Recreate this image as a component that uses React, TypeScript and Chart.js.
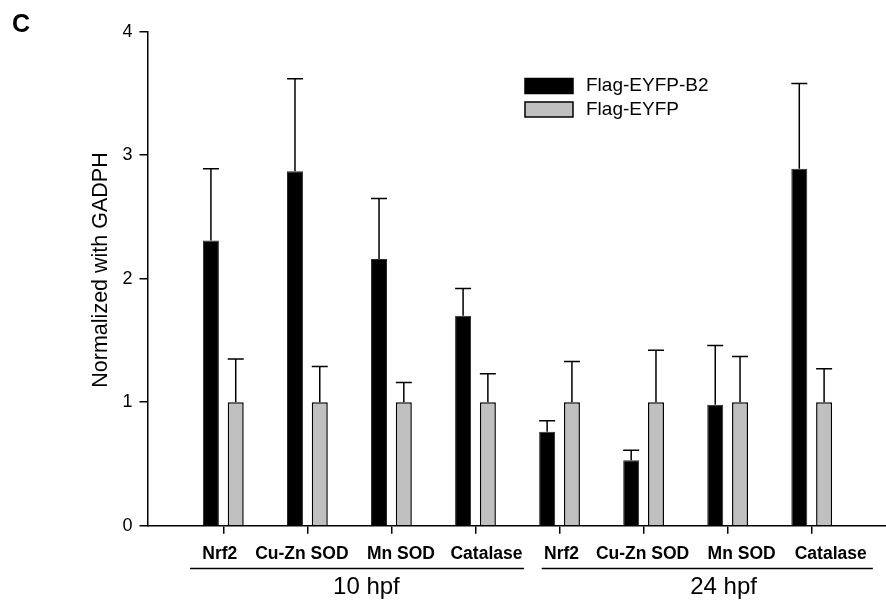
import React, { useEffect, useRef } from "react";
import { Chart, registerables } from "chart.js";

Chart.register(...registerables);

const categories = ["Nrf2", "Cu-Zn SOD", "Mn SOD", "Catalase", "Nrf2", "Cu-Zn SOD", "Mn SOD", "Catalase"];
const b2Values = [2.31, 2.87, 2.16, 1.7, 0.76, 0.53, 0.98, 2.89];
const b2Errors = [0.58, 0.75, 0.49, 0.22, 0.09, 0.08, 0.48, 0.69];
const eyfpValues = [1, 1, 1, 1, 1, 1, 1, 1];
const eyfpErrors = [0.35, 0.29, 0.16, 0.23, 0.33, 0.42, 0.37, 0.27];
const seriesNames = ["Flag-EYFP-B2", "Flag-EYFP"];
const groupLabels = ["10 hpf", "24 hpf"];
const yTicks = [0, 1, 2, 3, 4];

const FONT = "'Liberation Sans', Arial, Helvetica, sans-serif";
const errorSets = [b2Errors, eyfpErrors];

const errorBarPlugin = {
  id: "errorBars",
  afterDatasetsDraw(chart: any) {
    const ctx = chart.ctx;
    const yScale = chart.scales.y;
    ctx.save();
    ctx.strokeStyle = "#000";
    ctx.lineWidth = 1.5;
    chart.data.datasets.forEach((ds: any, di: number) => {
      const meta = chart.getDatasetMeta(di);
      const errs = errorSets[di];
      meta.data.forEach((bar: any, i: number) => {
        const v = ds.data[i].y;
        const top = yScale.getPixelForValue(v + errs[i]);
        const { x, y, width } = bar.getProps(["x", "y", "width"], true);
        ctx.beginPath();
        ctx.moveTo(x, y);
        ctx.lineTo(x, top);
        ctx.moveTo(x - width / 2, top);
        ctx.lineTo(x + width / 2, top);
        ctx.stroke();
      });
    });
    ctx.restore();
  },
};

const decorPlugin = {
  id: "decor",
  afterDraw(chart: any) {
    const ctx = chart.ctx;
    const xScale = chart.scales.x;
    ctx.save();
    // panel letter
    ctx.fillStyle = "#000";
    ctx.font = `bold 25px ${FONT}`;
    ctx.textAlign = "left";
    ctx.textBaseline = "alphabetic";
    ctx.fillText("C", 12, 31.5);

    // y-axis title
    ctx.save();
    ctx.translate(106.5, 270);
    ctx.rotate(-Math.PI / 2);
    ctx.font = `21.5px ${FONT}`;
    ctx.textAlign = "center";
    ctx.textBaseline = "alphabetic";
    ctx.fillText("Normalized with GADPH", 0, 0);
    ctx.restore();

    // category labels (hand-placed in the original figure, nudged around their ticks)
    const nudge = [-3.5, -5.5, 9.5, 11, 2, -1, 14, 19];
    ctx.font = `bold 17.5px ${FONT}`;
    ctx.textAlign = "center";
    ctx.textBaseline = "alphabetic";
    categories.forEach((name, i) => {
      ctx.fillText(name, xScale.getPixelForValue(i) + nudge[i], 558.5);
    });

    // legend
    const legendColors = chart.data.datasets.map((d: any) => d.backgroundColor);
    const bx = 525;
    const rowY = [78.5, 102];
    ctx.font = `19px ${FONT}`;
    ctx.textAlign = "left";
    ctx.textBaseline = "middle";
    seriesNames.forEach((name, i) => {
      ctx.fillStyle = legendColors[i];
      ctx.fillRect(bx, rowY[i], 48, 15);
      ctx.strokeStyle = "#000";
      ctx.lineWidth = 1.5;
      ctx.strokeRect(bx, rowY[i], 48, 15);
      ctx.fillStyle = "#000";
      ctx.fillText(name, 586, rowY[i] + 7.5);
    });

    // group brackets
    const groupSpans = [
      [-0.396, 3.577],
      [3.788, 7.728],
    ];
    const labelShift = [17, 38];
    const lineY = 568.5;
    ctx.strokeStyle = "#000";
    ctx.lineWidth = 1.5;
    ctx.font = `24px ${FONT}`;
    ctx.textAlign = "center";
    ctx.textBaseline = "alphabetic";
    groupSpans.forEach(([a, b], gi) => {
      ctx.beginPath();
      ctx.moveTo(xScale.getPixelForValue(a), lineY);
      ctx.lineTo(xScale.getPixelForValue(b), lineY);
      ctx.stroke();
      const first = gi * 4;
      const cx = (xScale.getPixelForValue(first) + xScale.getPixelForValue(first + 3)) / 2 + labelShift[gi];
      ctx.fillText(groupLabels[gi], cx, 594);
    });
    ctx.restore();
  },
};

export default function App() {
  const ref = useRef<HTMLCanvasElement | null>(null);
  useEffect(() => {
    if (!ref.current) return;
    document.body.style.margin = "0";
    const chart = new Chart(ref.current, {
      type: "bar",
      data: {
        datasets: [
          {
            label: seriesNames[0],
            data: b2Values.map((v, i) => ({ x: i, y: v })),
            backgroundColor: "#000000",
            borderColor: "#2a2a2a",
            borderWidth: 1,
          },
          {
            label: seriesNames[1],
            data: eyfpValues.map((v, i) => ({ x: i, y: v })),
            backgroundColor: "#c0c0c0",
            borderColor: "#000000",
            borderWidth: 1.5,
          },
        ],
      },
      options: {
        animation: false,
        responsive: false,
        maintainAspectRatio: false,
        categoryPercentage: 0.59,
        barPercentage: 0.645,
        layout: { padding: { top: 31.7, left: 0, right: 0, bottom: 0 } },
        plugins: {
          legend: { display: false },
          tooltip: { enabled: false },
          title: { display: false },
        },
        scales: {
          x: {
            type: "linear",
            offset: false,
            min: -0.902,
            max: 7.884,
            afterBuildTicks(scale: any) {
              scale.ticks = categories.map((_, i) => ({ value: i }));
            },
            afterFit(scale: any) {
              scale.height = 76.3;
            },
            ticks: {
              display: false,
              autoSkip: false,
              maxRotation: 0,
            },
            grid: {
              offset: false,
              drawOnChartArea: false,
              drawTicks: true,
              tickLength: 8,
              color: "#000",
              lineWidth: 1.5,
            },
            border: { display: true, color: "#000", width: 1.5 },
          },
          y: {
            type: "linear",
            min: 0,
            max: 4,
            afterBuildTicks(scale: any) {
              scale.ticks = yTicks.map((v) => ({ value: v }));
            },
            afterFit(scale: any) {
              scale.width = 147.5;
            },
            ticks: {
              padding: 7,
              color: "#000",
              font: { family: FONT, size: 18 },
            },
            grid: {
              drawOnChartArea: false,
              drawTicks: true,
              tickLength: 8,
              color: "#000",
              lineWidth: 1.5,
            },
            border: { display: true, color: "#000", width: 1.5 },
          },
        },
      } as any,
      plugins: [errorBarPlugin, decorPlugin],
    });
    return () => chart.destroy();
  }, []);
  return (
    <div style={{ position: "absolute", left: 0, top: 0, width: 886, height: 602, background: "#fff" }}>
      <canvas ref={ref} width={886} height={602} style={{ display: "block" }} />
    </div>
  );
}
